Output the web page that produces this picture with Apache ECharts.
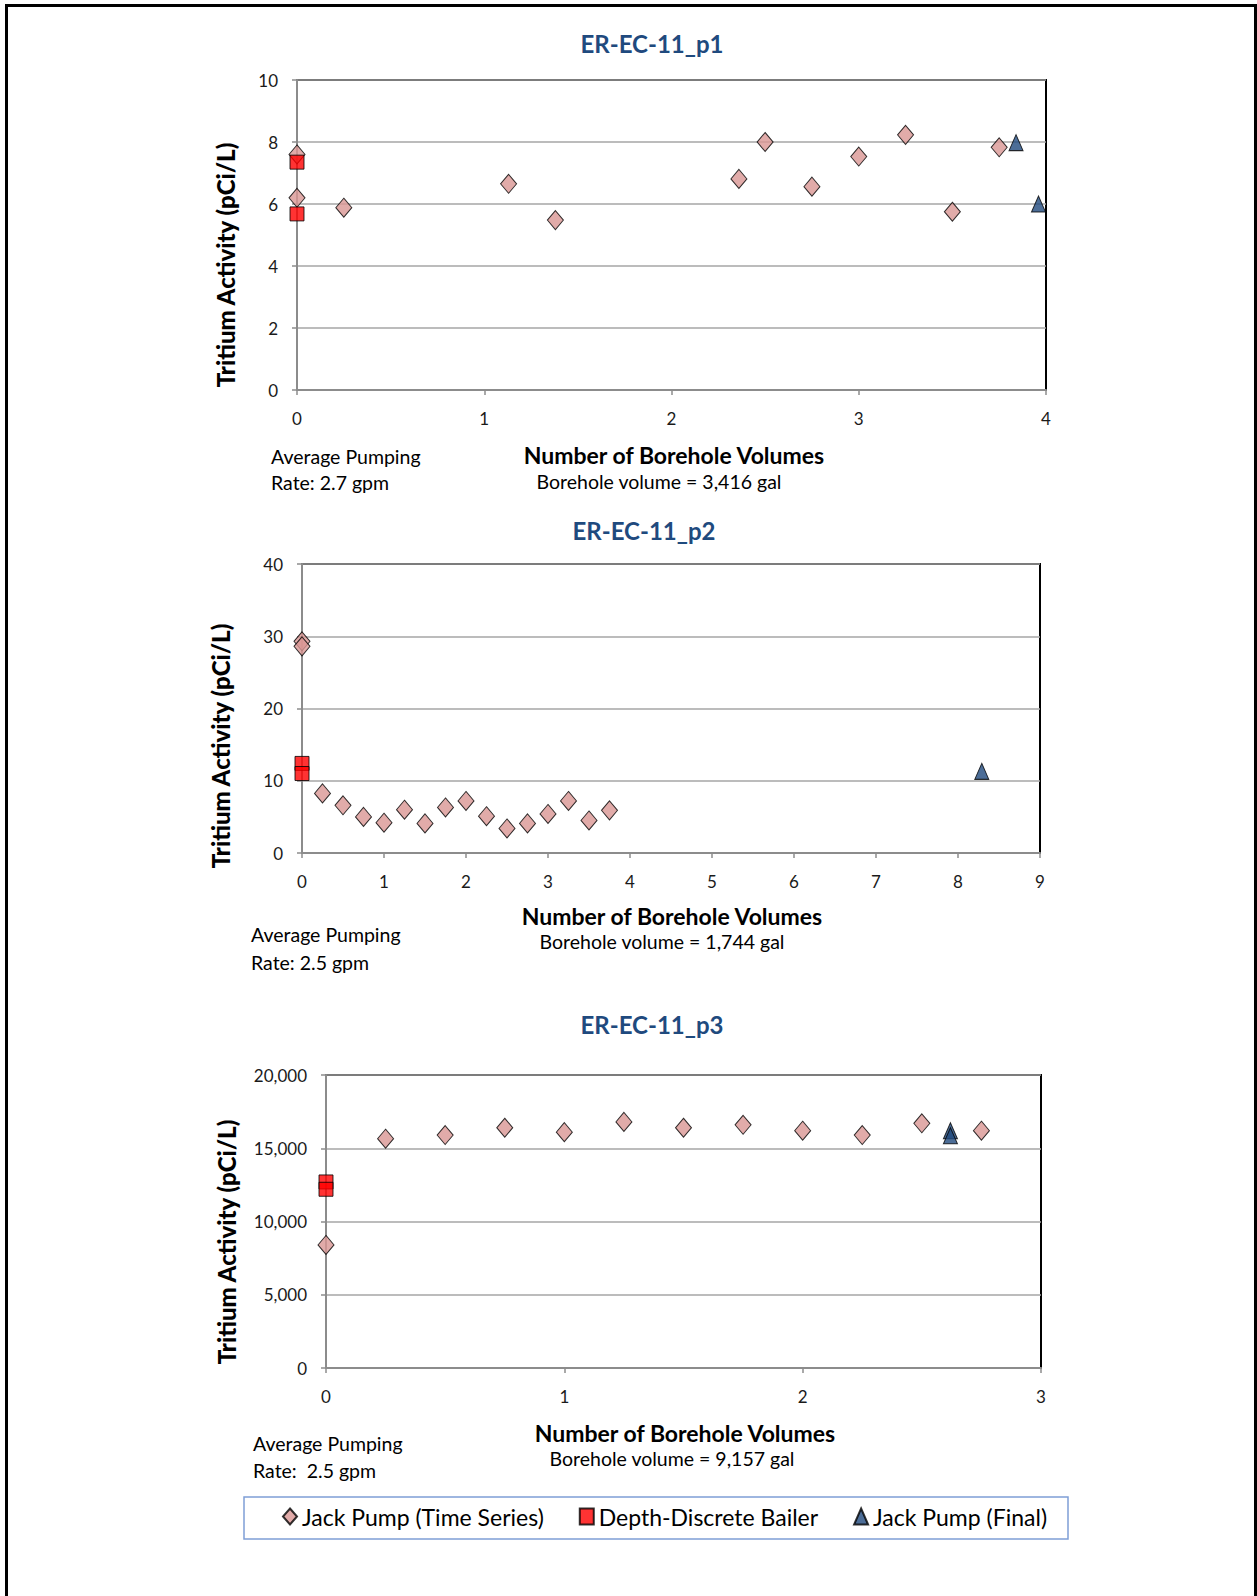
<!DOCTYPE html>
<html>
<head>
<meta charset="utf-8">
<script src="https://cdn.jsdelivr.net/npm/echarts@6/dist/echarts.min.js"></script>
<style>
  html, body { margin: 0; padding: 0; background: #fff; }
  #frame {
    position: absolute; left: 5px; top: 4px; width: 1246px; height: 1600px;
    border: 3px solid #000; border-bottom: none;
  }
  #chart { position: absolute; left: 0; top: 0; width: 1257px; height: 1596px; }
</style>
</head>
<body>
<div id="frame"></div>
<div id="chart"></div>
<script>
// ER-EC-11_p1
const p1PumpX = [0, 0, 0.25, 1.13, 1.38, 2.36, 2.5, 2.75, 3.0, 3.25, 3.5, 3.75];
const p1PumpY = [7.6, 6.2, 5.88, 6.65, 5.48, 6.81, 8.0, 6.56, 7.53, 8.23, 5.75, 7.83];
const p1BailerX = [0, 0];
const p1BailerY = [7.35, 5.68];
const p1FinalX = [3.84, 3.96];
const p1FinalY = [7.98, 6.0];

// ER-EC-11_p2
const p2PumpX = [0, 0, 0.25, 0.5, 0.75, 1, 1.25, 1.5, 1.75, 2, 2.25, 2.5, 2.75, 3, 3.25, 3.5, 3.75];
const p2PumpY = [29.3, 28.6, 8.25, 6.6, 5.0, 4.2, 6.0, 4.1, 6.3, 7.2, 5.1, 3.4, 4.1, 5.4, 7.2, 4.5, 5.9];
const p2BailerX = [0, 0];
const p2BailerY = [12.4, 11.0];
const p2FinalX = [8.29];
const p2FinalY = [11.3];

// ER-EC-11_p3
const p3PumpX = [0, 0.25, 0.5, 0.75, 1, 1.25, 1.5, 1.75, 2, 2.25, 2.5, 2.75];
const p3PumpY = [8400, 15650, 15900, 16400, 16100, 16800, 16400, 16600, 16200, 15900, 16700, 16200];
const p3BailerX = [0, 0];
const p3BailerY = [12700, 12200];
const p3FinalX = [2.62, 2.62];
const p3FinalY = [16200, 15850];

const titles = ['ER-EC-11_p1', 'ER-EC-11_p2', 'ER-EC-11_p3'];
const boreholeVolumes = ['Borehole volume = 3,416 gal', 'Borehole volume = 1,744 gal', 'Borehole volume = 9,157 gal'];
const pumpingRates = ['Rate: 2.7 gpm', 'Rate: 2.5 gpm', 'Rate:  2.5 gpm'];
const seriesNames = ['Jack Pump (Time Series)', 'Depth-Discrete Bailer', 'Jack Pump (Final)'];

const FONT = 'Lato, "Open Sans", sans-serif';
const BLUE_TITLE = '#1f4a7e';

const pairs = (xs, ys) => xs.map((x, i) => [x, ys[i]]);

const grids = [
    { left: 297, top: 80, width: 749, height: 310 },
    { left: 302, top: 564, width: 738, height: 289 },
    { left: 326, top: 1075, width: 715, height: 293 },
].map((g) => ({ ...g, show: true, borderColor: '#000', borderWidth: 2, backgroundColor: 'transparent' }));

const xAxisBase = (idx, max, margin) => ({
    type: 'value',
    gridIndex: idx,
    min: 0,
    max: max,
    interval: 1,
    axisLine: { show: true, lineStyle: { color: '#8c8c8c', width: 2 } },
    axisTick: { show: true, length: 5, lineStyle: { color: '#8c8c8c', width: 1.5 } },
    axisLabel: { color: '#1a1a1a', fontSize: 17, fontFamily: FONT, margin: margin },
    splitLine: { show: false },
});

const yAxisBase = (idx, max, interval, fmt) => ({
    type: 'value',
    gridIndex: idx,
    min: 0,
    max: max,
    interval: interval,
    axisLine: { show: true, lineStyle: { color: '#8c8c8c', width: 2 } },
    axisTick: { show: true, length: 5, lineStyle: { color: '#8c8c8c', width: 1.5 } },
    axisLabel: { color: '#1a1a1a', fontSize: 17, fontFamily: FONT, margin: 19, formatter: fmt },
    splitLine: { show: true, lineStyle: { color: '#a6a6a6', width: 1.5 } },
});

const pumpStyle = { color: '#d99694', borderColor: '#000', borderWidth: 1 };
const bailerStyle = { color: '#ff0000', borderColor: '#000', borderWidth: 1 };
const finalStyle = { color: '#1f497d', borderColor: '#000', borderWidth: 1 };

const makeSeries = (idx, pump, bailer, fin) => [
    { name: seriesNames[0], type: 'scatter', xAxisIndex: idx, yAxisIndex: idx, symbol: 'diamond', symbolSize: [16, 19], itemStyle: pumpStyle, data: pump, clip: false },
    { name: seriesNames[1], type: 'scatter', xAxisIndex: idx, yAxisIndex: idx, symbol: 'rect', symbolSize: 14, itemStyle: bailerStyle, data: bailer, clip: false },
    { name: seriesNames[2], type: 'scatter', xAxisIndex: idx, yAxisIndex: idx, symbol: 'triangle', symbolSize: [14, 16], itemStyle: finalStyle, data: fin, clip: false },
];

const txt = (x, y, text, font, align, extra) => ({
    type: 'text',
    x: x,
    y: y,
    silent: true,
    style: Object.assign({ text: text, font: font, fill: '#000', align: align || 'left', verticalAlign: 'middle' }, extra || {}),
});

const yName = (x, y) => ({
    type: 'text',
    x: x,
    y: y,
    rotation: Math.PI / 2,
    silent: true,
    style: { text: 'Tritium Activity (pCi/L)', font: '900 24px ' + FONT, fill: '#000', align: 'center', verticalAlign: 'middle' },
});

// text blocks laid out around each plot
const textPos = [
    { title: [652, 43], yName: [225, 265], name: [674, 455], sub: [659, 481], avg: [271, 456], rate: [271, 482] },
    { title: [644, 530], yName: [220, 746], name: [672, 916], sub: [662, 941], avg: [251, 934], rate: [251, 962] },
    { title: [652, 1024], yName: [226, 1242], name: [685, 1433], sub: [672, 1458], avg: [253, 1443], rate: [253, 1470] },
];

const graphics = [];
textPos.forEach((p, i) => {
    graphics.push(txt(p.title[0], p.title[1], titles[i], 'bold 24px ' + FONT, 'center', { fill: BLUE_TITLE }));
    graphics.push(yName(p.yName[0], p.yName[1]));
    graphics.push(txt(p.name[0], p.name[1], 'Number of Borehole Volumes', 'bold 23px ' + FONT, 'center'));
    graphics.push(txt(p.sub[0], p.sub[1], boreholeVolumes[i], '19.5px ' + FONT, 'center'));
    graphics.push(txt(p.avg[0], p.avg[1], 'Average Pumping', '19.5px ' + FONT, 'left'));
    graphics.push(txt(p.rate[0], p.rate[1], pumpingRates[i], '19.5px ' + FONT, 'left'));
});
// legend frame
graphics.push({
    type: 'rect',
    silent: true,
    shape: { x: 244, y: 1497, width: 824, height: 42 },
    style: { fill: 'transparent', stroke: '#7f9fd6', lineWidth: 1.5 },
});

const option = {
    animation: false,
    backgroundColor: 'transparent',
    grid: grids,
    xAxis: [xAxisBase(0, 4, 20), xAxisBase(1, 9, 20), xAxisBase(2, 3, 20)],
    yAxis: [
        yAxisBase(0, 10, 2),
        yAxisBase(1, 40, 10),
        yAxisBase(2, 20000, 5000, (v) => v.toLocaleString('en-US')),
    ],
    legend: {
        left: 277,
        top: 1500,
        itemGap: 35,
        itemWidth: 14,
        itemHeight: 16,
        textStyle: { fontSize: 23, fontFamily: FONT, color: '#000' },
        data: seriesNames,
    },
    graphic: graphics,
    series: [
        ...makeSeries(0, pairs(p1PumpX, p1PumpY), pairs(p1BailerX, p1BailerY), pairs(p1FinalX, p1FinalY)),
        ...makeSeries(1, pairs(p2PumpX, p2PumpY), pairs(p2BailerX, p2BailerY), pairs(p2FinalX, p2FinalY)),
        ...makeSeries(2, pairs(p3PumpX, p3PumpY), pairs(p3BailerX, p3BailerY), pairs(p3FinalX, p3FinalY)),
    ],
};

let myChart = echarts.init(document.getElementById('chart'), null, { renderer: 'svg' });
myChart.setOption(option);
</script>
</body>
</html>
